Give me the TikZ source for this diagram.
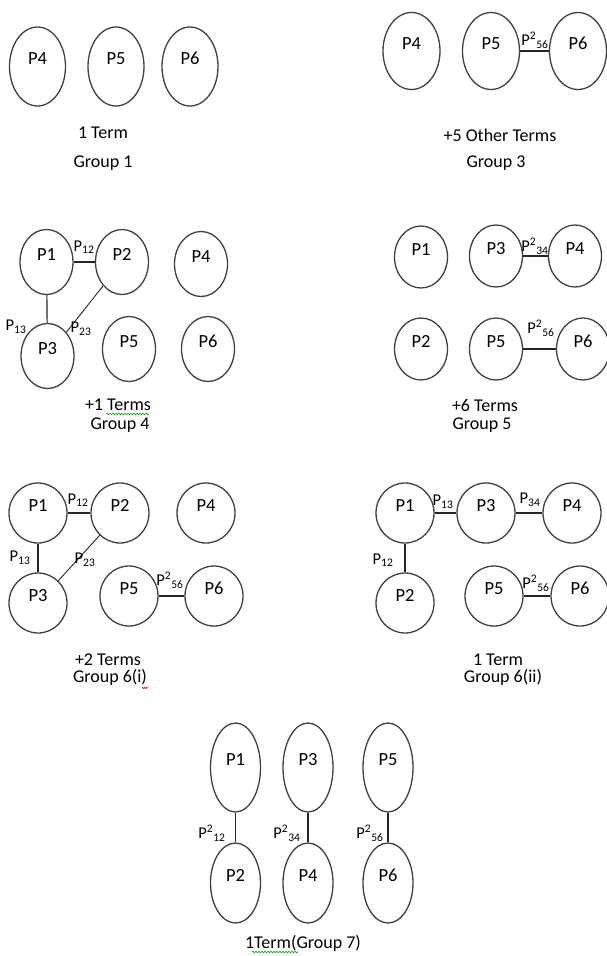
\documentclass[tikz,border=0pt]{standalone}
\usepackage{fontspec}
\setmainfont{Carlito}
\usetikzlibrary{shapes.geometric, decorations.pathmorphing}

\newcommand{\Psub}[1]{P\textsubscript{#1}}
\newcommand{\Psq}[1]{P\textsuperscript{2}\textsubscript{#1}}

\tikzset{
	pball/.style={ellipse, draw=black!75, line width=1.3pt, inner sep=0pt,
		text height=12pt, text depth=16pt, font=\fontsize{18.5}{21}\selectfont},
	bond/.style={draw=black!85, line width=1.2pt},
	bondlabel/.style={inner sep=0pt, font=\fontsize{16.5}{18}\selectfont},
	caption/.style={inner sep=0pt, font=\fontsize{18}{20}\selectfont},
	squiggle/.style={decorate, decoration={snake, amplitude=0.7pt, segment length=3pt}, line width=0.6pt},
}

\begin{document}
\begin{tikzpicture}[x=1pt, y=-1pt]
			\useasboundingbox (0,0) rectangle (606,956);
			% group 1
			\begin{scope}[pball/.append style={minimum width=56pt, minimum height=79pt}]
				\node[pball] (g1p4) at (37.5,66.5) {P4};
				\node[pball] (g1p5) at (116,66.5) {P5};
				\node[pball] (g1p6) at (190,66.5) {P6};
				\node[caption] (g1terms) at (103,133) {1 Term};
				\node[caption] (g1name) at (103,163) {Group 1};
			\end{scope}
			% group 3
			\begin{scope}[pball/.append style={minimum width=57pt, minimum height=77pt}]
				\node[pball] (g3p4) at (411.5,51) {P4};
				\node[pball] (g3p5) at (491,51) {P5};
				\node[pball] (g3p6) at (578,51) {P6};
				\draw[bond] (g3p5) -- (g3p6);
				\node[bondlabel] (g3l56) at (535,40) {\Psq{56}};
				\node[caption] (g3terms) at (500,135) {+5 Other Terms};
				\node[caption] (g3name) at (496,163) {Group 3};
			\end{scope}
			% group 4
			\begin{scope}[pball/.append style={minimum width=53pt, minimum height=65pt}]
				\node[pball] (g4p1) at (46.5,262) {P1};
				\node[pball] (g4p2) at (122,262) {P2};
				\node[pball] (g4p4) at (201,264) {P4};
				\node[pball] (g4p3) at (47.5,356) {P3};
				\node[pball] (g4p5) at (129,349) {P5};
				\node[pball] (g4p6) at (208,349) {P6};
				\draw[bond] (g4p1) -- (g4p2);
				\draw[bond] (g4p1) -- (g4p3);
				\draw[bond, line width=0.9pt] (g4p2) -- (g4p3);
				\node[bondlabel] (g4l12) at (84,247) {\Psub{12}};
				\node[bondlabel] (g4l13) at (16,327) {\Psub{13}};
				\node[bondlabel] (g4l23) at (81,329) {\Psub{23}};
				\node[caption] (g4terms) at (118,405) {+1 Terms};
				\node[caption] (g4name) at (120,425) {Group 4};
				\draw[squiggle, green!60!black] (106,414) -- (149,414);
			\end{scope}
			% group 5
			\begin{scope}[pball/.append style={minimum width=53pt, minimum height=62pt}]
				\node[pball] (g5p1) at (421,257) {P1};
				\node[pball] (g5p3) at (496,256) {P3};
				\node[pball] (g5p4) at (575,256) {P4};
				\node[pball] (g5p2) at (421,349) {P2};
				\node[pball] (g5p5) at (496,349) {P5};
				\node[pball] (g5p6) at (583,349) {P6};
				\draw[bond] (g5p3) -- (g5p4);
				\draw[bond] (g5p5) -- (g5p6);
				\node[bondlabel] (g5l34) at (535,246) {\Psq{34}};
				\node[bondlabel] (g5l56) at (541,328) {\Psq{56}};
				\node[caption] (g5terms) at (485,405) {+6 Terms};
				\node[caption] (g5name) at (482,425) {Group 5};
			\end{scope}
			% group 6(i)
			\begin{scope}[pball/.append style={minimum width=58pt, minimum height=60pt}]
				\node[pball] (g6ap1) at (38,513) {P1};
				\node[pball] (g6ap2) at (120,513) {P2};
				\node[pball] (g6ap4) at (206,513) {P4};
				\node[pball] (g6ap3) at (38,603) {P3};
				\node[pball] (g6ap5) at (129,596) {P5};
				\node[pball] (g6ap6) at (214,596) {P6};
				\draw[bond] (g6ap1) -- (g6ap2);
				\draw[bond] (g6ap1) -- (g6ap3);
				\draw[bond, line width=0.9pt] (g6ap2) -- (g6ap3);
				\draw[bond] (g6ap5) -- (g6ap6);
				\node[bondlabel] (g6al12) at (78,500) {\Psub{12}};
				\node[bondlabel] (g6al13) at (20,558) {\Psub{13}};
				\node[bondlabel] (g6al23) at (85,560) {\Psub{23}};
				\node[bondlabel] (g6al56) at (170,580) {\Psq{56}};
				\node[caption] (g6aterms) at (108,660) {+2 Terms};
				\node[caption] (g6aname) at (110,677) {Group 6(i)};
				\draw[squiggle, red, segment length=2pt] (142,688) -- (148,688);
			\end{scope}
			% group 6(ii)
			\begin{scope}[pball/.append style={minimum width=58pt, minimum height=60pt}]
				\node[pball] (g6bp1) at (405,513) {P1};
				\node[pball] (g6bp3) at (486,513) {P3};
				\node[pball] (g6bp4) at (572,513) {P4};
				\node[pball] (g6bp2) at (405,603) {P2};
				\node[pball] (g6bp5) at (494,596) {P5};
				\node[pball] (g6bp6) at (580,596) {P6};
				\draw[bond] (g6bp1) -- (g6bp3);
				\draw[bond] (g6bp3) -- (g6bp4);
				\draw[bond] (g6bp1) -- (g6bp2);
				\draw[bond] (g6bp5) -- (g6bp6);
				\node[bondlabel] (g6bl13) at (443,502) {\Psub{13}};
				\node[bondlabel] (g6bl34) at (530,500) {\Psub{34}};
				\node[bondlabel] (g6bl12) at (383,560) {\Psub{12}};
				\node[bondlabel] (g6bl56) at (536,583) {\Psq{56}};
				\node[caption] (g6bterms) at (498,660) {1 Term};
				\node[caption] (g6bname) at (503,677) {Group 6(ii)};
			\end{scope}
			% group 7
			\begin{scope}[pball/.append style={minimum width=50pt}]
				\node[pball, minimum height=89pt] (g7p1) at (235.5,767.5) {P1};
				\node[pball, minimum height=89pt] (g7p3) at (308,767.5) {P3};
				\node[pball, minimum height=89pt] (g7p5) at (388,767.5) {P5};
				\node[pball, minimum height=80pt] (g7p2) at (235.5,883) {P2};
				\node[pball, minimum height=80pt] (g7p4) at (308,883) {P4};
				\node[pball, minimum height=80pt] (g7p6) at (388,883) {P6};
				\draw[bond] (g7p1) -- (g7p2);
				\draw[bond] (g7p3) -- (g7p4);
				\draw[bond] (g7p5) -- (g7p6);
				\node[bondlabel] (g7l12) at (212,833) {\Psq{12}};
				\node[bondlabel] (g7l34) at (287,833) {\Psq{34}};
				\node[bondlabel] (g7l56) at (370,833) {\Psq{56}};
				\node[caption] (g7name) at (303,943) {1Term(Group 7)};
				\draw[squiggle, green!60!black] (252,952) -- (298,952);
			\end{scope}
		\end{tikzpicture}
\end{document}
